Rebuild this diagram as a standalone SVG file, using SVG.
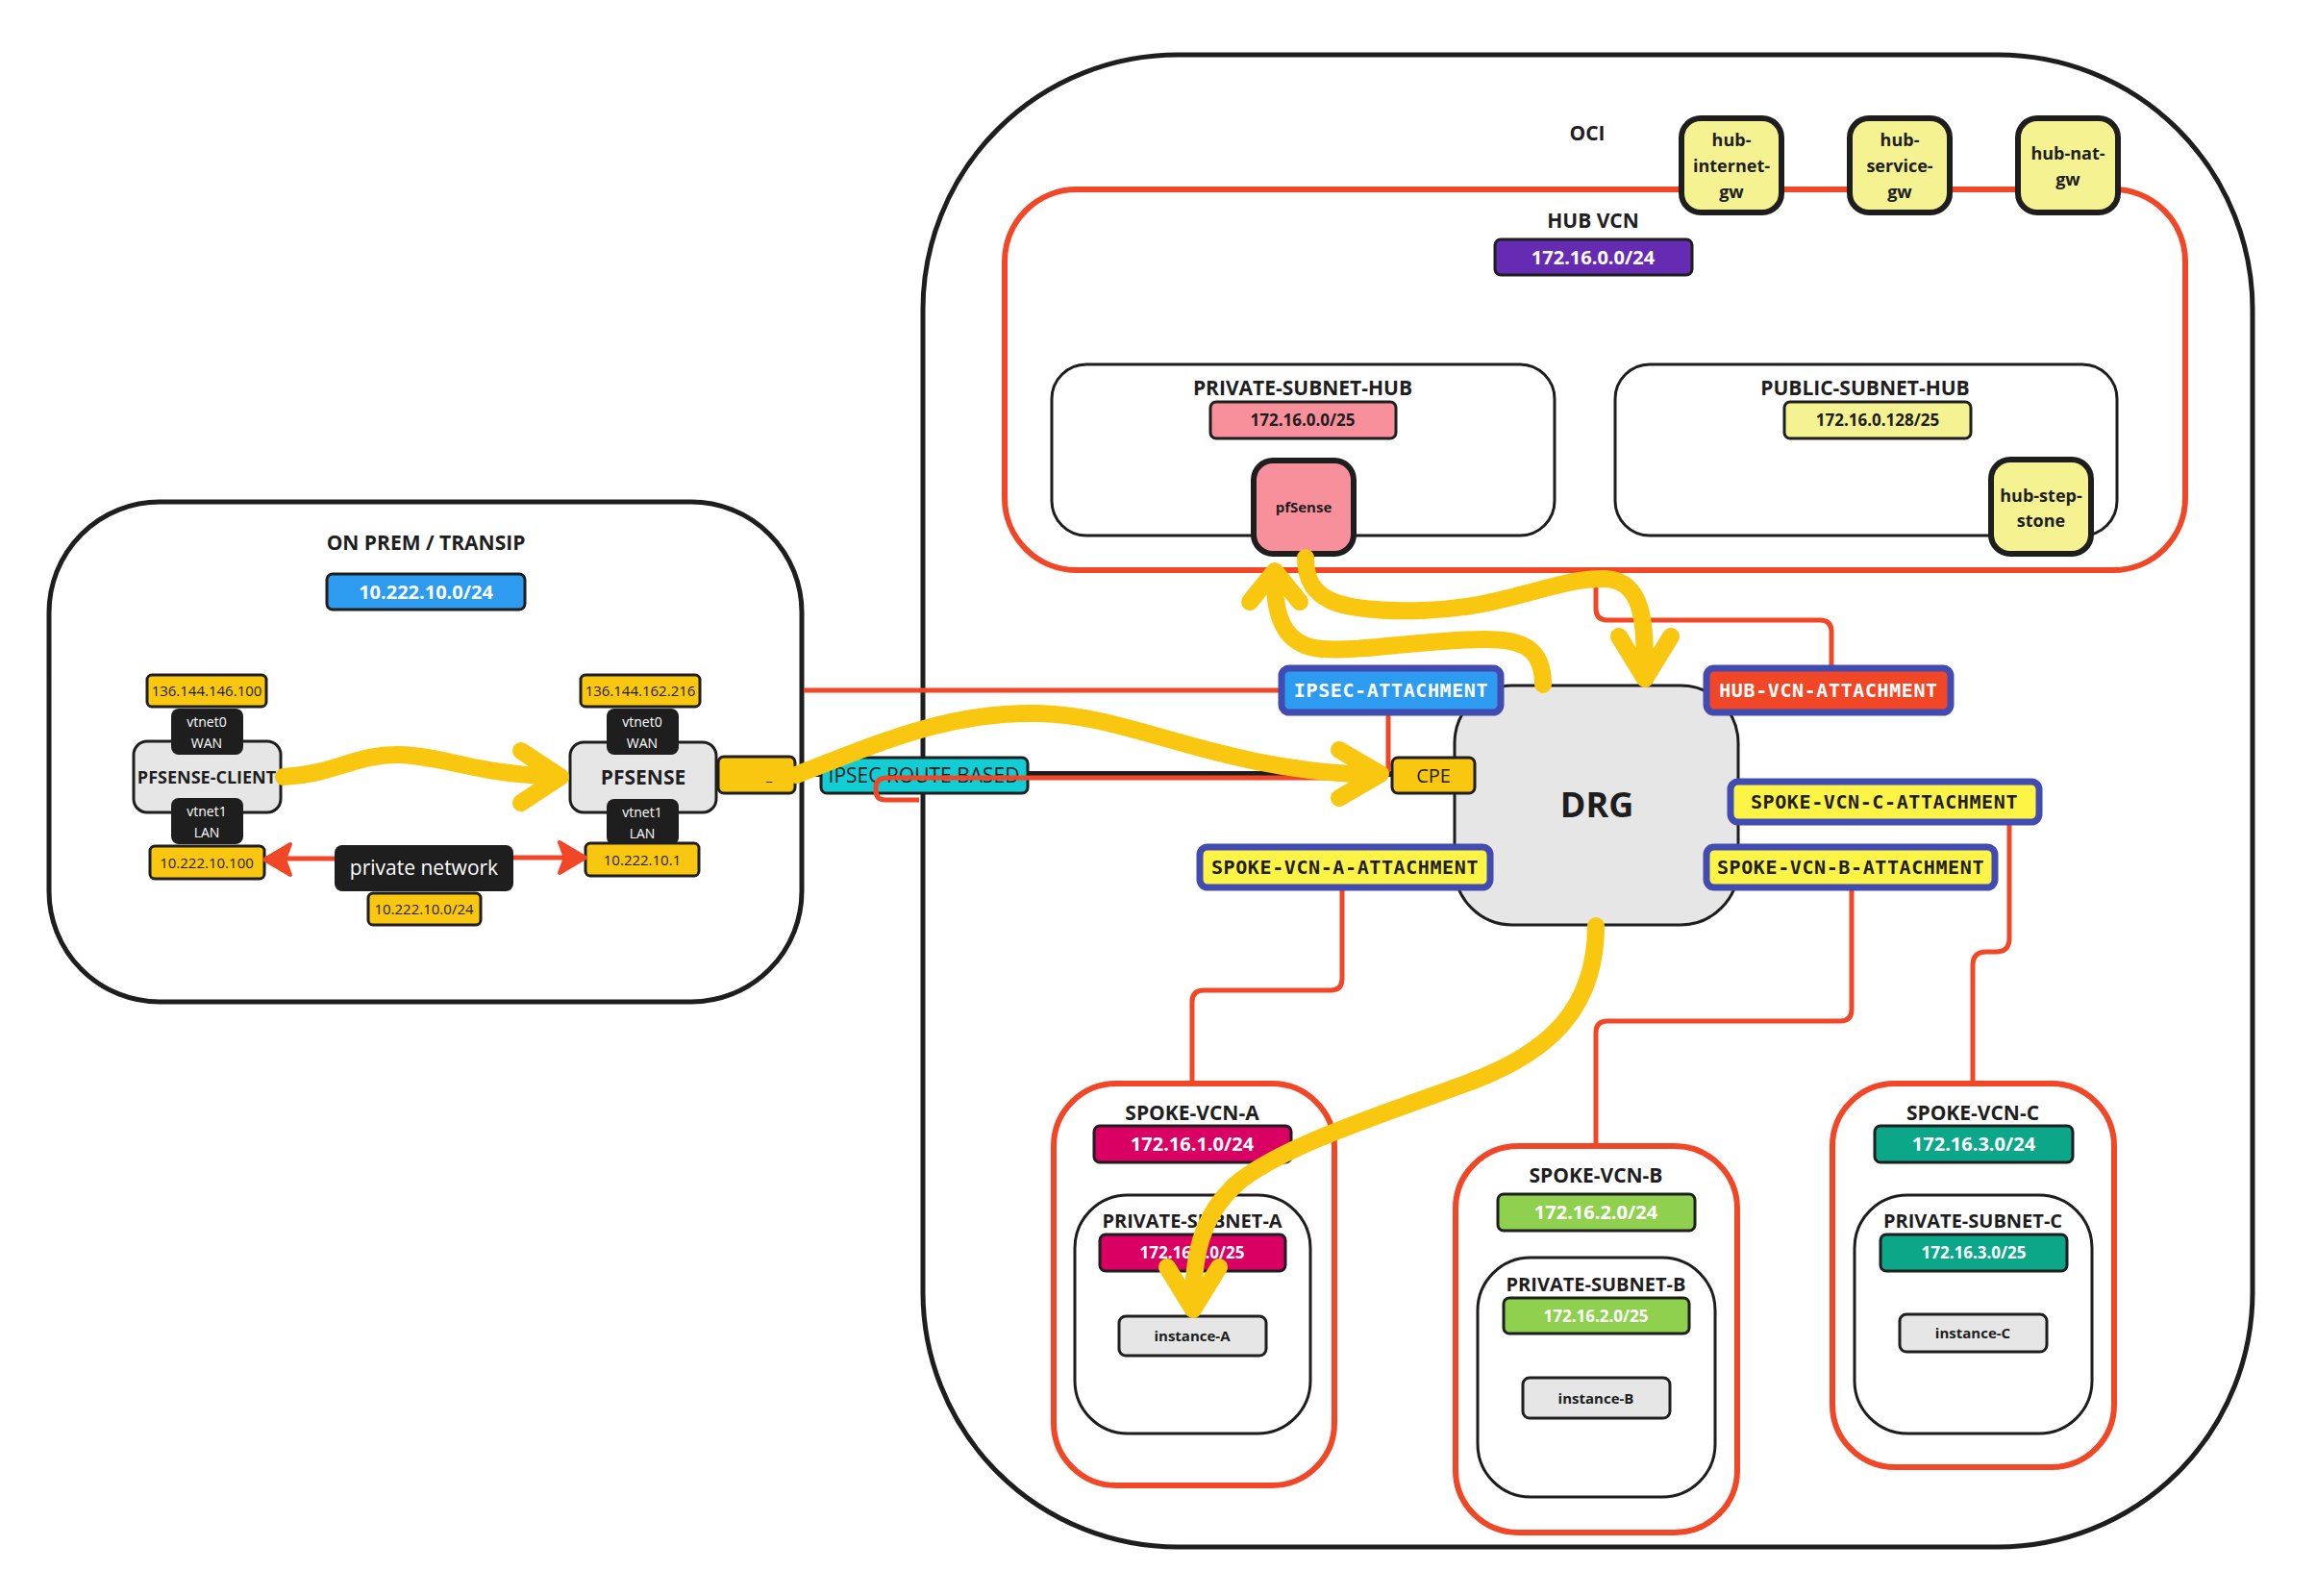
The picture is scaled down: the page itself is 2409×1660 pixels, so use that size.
<svg xmlns="http://www.w3.org/2000/svg" width="2409" height="1660" viewBox="0 0 2409 1660">
<style>
.t{font-family:"Open Sans","Noto Sans","Liberation Sans",sans-serif;fill:#1e1e1e;text-anchor:middle}
.b{font-weight:700}
.w{fill:#ffffff}
.m{font-family:"DejaVu Sans Mono","Liberation Mono",monospace;font-weight:700;font-size:20px;letter-spacing:0.6px;text-anchor:middle}
.frame{fill:none;stroke:#1e1e1e;stroke-width:5}
.vcn{fill:none;stroke:#f24726;stroke-width:6}
.sub{fill:#ffffff;stroke:#1e1e1e;stroke-width:3}
.amber{fill:#fac710;stroke:#1e1e1e;stroke-width:3}
.grey{fill:#e6e6e6;stroke:#1e1e1e;stroke-width:3}
.nic{fill:#1e1e1e}
.att{stroke:#414bb2;stroke-width:7}
.lyel{fill:#f4f291;stroke:#1e1e1e;stroke-width:6}
.red{fill:none;stroke:#f24726;stroke-width:5;stroke-linejoin:round}
.flow{fill:none;stroke:#fac710;stroke-width:18;stroke-linecap:round;stroke-linejoin:round}
</style>
<rect width="2409" height="1660" fill="#ffffff"/>

<g id="onprem">
<rect class="frame" x="51" y="522" width="783" height="520" rx="115"/>
<text class="t b" x="443" y="572" font-size="21">ON PREM / TRANSIP</text>
<rect x="340" y="597" width="206" height="37" rx="6" fill="#2d9bf0" stroke="#1e1e1e" stroke-width="3"/>
<text class="t b w" x="443" y="623" font-size="20">10.222.10.0/24</text>
</g>

<g id="pfsense-client">
<rect class="amber" x="153" y="702" width="124" height="33" rx="5"/>
<text class="t" x="215" y="724" font-size="15">136.144.146.100</text>
<rect class="grey" x="139" y="771" width="153" height="74" rx="14"/>
<text class="t b" x="215" y="815" font-size="18">PFSENSE-CLIENT</text>
<rect class="nic" x="178" y="737" width="75" height="48" rx="8"/>
<text class="t w" x="215" y="756" font-size="14">vtnet0</text>
<text class="t w" x="215" y="778" font-size="14">WAN</text>
<rect class="nic" x="178" y="830" width="75" height="48" rx="8"/>
<text class="t w" x="215" y="849" font-size="14">vtnet1</text>
<text class="t w" x="215" y="871" font-size="14">LAN</text>
<rect class="amber" x="156" y="880" width="119" height="34" rx="5"/>
<text class="t" x="215" y="903" font-size="15">10.222.10.100</text>
</g>

<g id="pfsense">
<rect class="amber" x="604" y="702" width="124" height="33" rx="5"/>
<text class="t" x="666" y="724" font-size="15">136.144.162.216</text>
<rect class="grey" x="593" y="772" width="152" height="73" rx="14"/>
<text class="t b" x="669" y="816" font-size="21">PFSENSE</text>
<rect class="nic" x="631" y="737" width="75" height="48" rx="8"/>
<text class="t w" x="668" y="756" font-size="14">vtnet0</text>
<text class="t w" x="668" y="778" font-size="14">WAN</text>
<rect class="nic" x="631" y="831" width="75" height="48" rx="8"/>
<text class="t w" x="668" y="850" font-size="14">vtnet1</text>
<text class="t w" x="668" y="872" font-size="14">LAN</text>
<rect class="amber" x="609" y="877" width="118" height="34" rx="5"/>
<text class="t" x="668" y="900" font-size="15">10.222.10.1</text>
<rect class="amber" x="747" y="787" width="80" height="38" rx="6"/>
<text class="t" x="800" y="812" font-size="14">_</text>
</g>

<g id="private-network">
<rect class="nic" x="348" y="879" width="186" height="48" rx="8"/>
<text class="t w" x="441" y="910" font-size="21">private network</text>
<rect class="amber" x="383" y="929" width="117" height="33" rx="5"/>
<text class="t" x="441" y="951" font-size="15">10.222.10.0/24</text>
</g>

<g id="oci">
<rect class="frame" x="960" y="57" width="1383" height="1552" rx="265"/>
<text class="t b" x="1651" y="146" font-size="21">OCI</text>
</g>

<g id="hub-vcn">
<rect class="vcn" x="1045" y="197" width="1228" height="396" rx="75"/>
<text class="t b" x="1657" y="237" font-size="21">HUB VCN</text>
<rect x="1555" y="249" width="205" height="37" rx="6" fill="#652cb3" stroke="#1e1e1e" stroke-width="3"/>
<text class="t b w" x="1657" y="275" font-size="20">172.16.0.0/24</text>
</g>

<g id="private-subnet-hub">
<rect class="sub" x="1094" y="379" width="523" height="178" rx="36"/>
<text class="t b" x="1355" y="411" font-size="21">PRIVATE-SUBNET-HUB</text>
<rect x="1259" y="418" width="193" height="38" rx="6" fill="#f8909c" stroke="#1e1e1e" stroke-width="3"/>
<text class="t b" x="1355" y="443" font-size="17">172.16.0.0/25</text>
</g>

<g id="pfsense-oci">
<rect x="1304" y="479" width="104" height="97" rx="20" fill="#f8909c" stroke="#1e1e1e" stroke-width="6"/>
<text class="t b" x="1356" y="533" font-size="15">pfSense</text>
</g>

<g id="public-subnet-hub">
<rect class="sub" x="1680" y="379" width="522" height="178" rx="36"/>
<text class="t b" x="1940" y="411" font-size="21">PUBLIC-SUBNET-HUB</text>
<rect x="1856" y="418" width="194" height="38" rx="6" fill="#f4f291" stroke="#1e1e1e" stroke-width="3"/>
<text class="t b" x="1953" y="443" font-size="17">172.16.0.128/25</text>
</g>

<g id="hub-step-stone">
<rect class="lyel" x="2071" y="478" width="104" height="98" rx="20"/>
<text class="t b" x="2123" y="522" font-size="18">hub-step-</text>
<text class="t b" x="2123" y="548" font-size="18">stone</text>
</g>

<g id="hub-internet-gw">
<rect class="lyel" x="1749" y="123" width="104" height="98" rx="20"/>
<text class="t b" x="1801" y="152" font-size="18">hub-</text>
<text class="t b" x="1801" y="179" font-size="18">internet-</text>
<text class="t b" x="1801" y="206" font-size="18">gw</text>
</g>
<g id="hub-service-gw">
<rect class="lyel" x="1924" y="123" width="104" height="98" rx="20"/>
<text class="t b" x="1976" y="152" font-size="18">hub-</text>
<text class="t b" x="1976" y="179" font-size="18">service-</text>
<text class="t b" x="1976" y="206" font-size="18">gw</text>
</g>
<g id="hub-nat-gw">
<rect class="lyel" x="2099" y="123" width="104" height="98" rx="20"/>
<text class="t b" x="2151" y="166" font-size="18">hub-nat-</text>
<text class="t b" x="2151" y="193" font-size="18">gw</text>
</g>

<g id="drg">
<rect class="grey" x="1513" y="713" width="295" height="249" rx="60"/>
<text class="t b" x="1661" y="850" font-size="36">DRG</text>
</g>

<g id="spoke-vcn-a">
<rect class="vcn" x="1096" y="1127" width="292" height="418" rx="65"/>
<text class="t b" x="1240" y="1165" font-size="21">SPOKE-VCN-A</text>
<rect x="1138" y="1171" width="205" height="38" rx="6" fill="#da0063" stroke="#1e1e1e" stroke-width="3"/>
<text class="t b w" x="1240" y="1197" font-size="20">172.16.1.0/24</text>
<rect class="sub" x="1118" y="1243" width="245" height="248" rx="55"/>
<text class="t b" x="1240" y="1277" font-size="20">PRIVATE-SUBNET-A</text>
<rect x="1144" y="1284" width="193" height="38" rx="6" fill="#da0063" stroke="#1e1e1e" stroke-width="3"/>
<text class="t b w" x="1240" y="1309" font-size="17">172.16.1.0/25</text>
<rect class="grey" x="1164" y="1369" width="153" height="41" rx="7"/>
<text class="t b" x="1240" y="1395" font-size="15">instance-A</text>
</g>

<g id="spoke-vcn-b">
<rect class="vcn" x="1514" y="1192" width="293" height="402" rx="65"/>
<text class="t b" x="1660" y="1230" font-size="21">SPOKE-VCN-B</text>
<rect x="1558" y="1242" width="205" height="38" rx="6" fill="#8fd14f" stroke="#1e1e1e" stroke-width="3"/>
<text class="t b w" x="1660" y="1268" font-size="20">172.16.2.0/24</text>
<rect class="sub" x="1537" y="1308" width="247" height="249" rx="55"/>
<text class="t b" x="1660" y="1343" font-size="20">PRIVATE-SUBNET-B</text>
<rect x="1564" y="1350" width="193" height="37" rx="6" fill="#8fd14f" stroke="#1e1e1e" stroke-width="3"/>
<text class="t b w" x="1660" y="1375" font-size="17">172.16.2.0/25</text>
<rect class="grey" x="1584" y="1433" width="153" height="42" rx="7"/>
<text class="t b" x="1660" y="1460" font-size="15">instance-B</text>
</g>

<g id="spoke-vcn-c">
<rect class="vcn" x="1906" y="1127" width="293" height="399" rx="65"/>
<text class="t b" x="2052" y="1165" font-size="21">SPOKE-VCN-C</text>
<rect x="1950" y="1171" width="206" height="38" rx="6" fill="#0ca789" stroke="#1e1e1e" stroke-width="3"/>
<text class="t b w" x="2053" y="1197" font-size="20">172.16.3.0/24</text>
<rect class="sub" x="1929" y="1243" width="247" height="248" rx="55"/>
<text class="t b" x="2052" y="1277" font-size="20">PRIVATE-SUBNET-C</text>
<rect x="1956" y="1284" width="194" height="38" rx="6" fill="#0ca789" stroke="#1e1e1e" stroke-width="3"/>
<text class="t b w" x="2053" y="1309" font-size="17">172.16.3.0/25</text>
<rect class="grey" x="1976" y="1367" width="153" height="39" rx="7"/>
<text class="t b" x="2052" y="1392" font-size="15">instance-C</text>
</g>

<g id="connectors">
<path d="M827,805 H1448" fill="none" stroke="#1e1e1e" stroke-width="6"/>
<rect x="854" y="788" width="215" height="37" rx="6" fill="#12cdd4" stroke="#1e1e1e" stroke-width="3"/>
<text class="t" x="961" y="814" font-size="21">IPSEC ROUTE BASED</text>
<path class="red" d="M836,718 H1333"/>
<path class="red" d="M1444,743 V797 Q1444,809 1432,809 H923 Q911,809 911,819 V822 Q911,832 921,832 H956"/>
<path class="red" d="M1905,695 V657 Q1905,645 1893,645 H1672 Q1660,645 1660,633 V596"/>
<path class="red" d="M1396,923 V1018 Q1396,1030 1384,1030 H1252 Q1240,1030 1240,1042 V1127"/>
<path class="red" d="M1926,923 V1050 Q1926,1062 1914,1062 H1672 Q1660,1062 1660,1074 V1192"/>
<path class="red" d="M2090,855 V976 Q2090,990 2076,990 H2066 Q2052,990 2052,1004 V1127"/>
<path class="red" d="M348,893 H290"/>
<path d="M275,894 L302,878 L296,894 L302,910 Z" fill="#f24726" stroke="#f24726" stroke-width="4" stroke-linejoin="round"/>
<path class="red" d="M534,892 H594"/>
<path d="M609,892 L582,876 L588,892 L582,908 Z" fill="#f24726" stroke="#f24726" stroke-width="4" stroke-linejoin="round"/>
</g>

<g id="attachments">
<g id="ipsec-attachment">
<rect class="att" x="1333" y="695" width="228" height="46" rx="8" fill="#2d9bf0"/>
<text class="m w" x="1447" y="725">IPSEC-ATTACHMENT</text>
</g>
<g id="hub-vcn-attachment">
<rect class="att" x="1775" y="695" width="254" height="46" rx="8" fill="#f24726"/>
<text class="m w" x="1902" y="725">HUB-VCN-ATTACHMENT</text>
</g>
<g id="spoke-vcn-c-attachment">
<rect class="att" x="1800" y="813" width="321" height="42" rx="8" fill="#fef445"/>
<text class="m" x="1960" y="841" fill="#1e1e1e">SPOKE-VCN-C-ATTACHMENT</text>
</g>
<g id="spoke-vcn-b-attachment">
<rect class="att" x="1775" y="881" width="300" height="42" rx="8" fill="#fef445"/>
<text class="m" x="1925" y="909" fill="#1e1e1e">SPOKE-VCN-B-ATTACHMENT</text>
</g>
<g id="spoke-vcn-a-attachment">
<rect class="att" x="1248" y="881" width="302" height="42" rx="8" fill="#fef445"/>
<text class="m" x="1399" y="909" fill="#1e1e1e">SPOKE-VCN-A-ATTACHMENT</text>
</g>
<g id="cpe">
<rect class="amber" x="1448" y="788" width="86" height="37" rx="6"/>
<text class="t" x="1491" y="814" font-size="20">CPE</text>
</g>
</g>

<g id="flows">
<path class="flow" d="M295,808 C350,805 370,784 415,785 C460,786 500,806 572,807"/>
<path class="flow" d="M542,781 L583,808 L542,835"/>
<path class="flow" d="M828,806 C920,770 990,740 1080,742 C1180,744 1260,800 1425,806"/>
<path class="flow" d="M1393,780 L1436,805 L1393,830"/>
<path class="flow" d="M1605,712 C1605,675 1585,665 1545,665 C1480,665 1420,678 1375,675 C1335,672 1326,640 1326,605"/>
<path class="flow" d="M1300,626 L1326,594 L1352,626"/>
<path class="flow" d="M1358,580 C1358,625 1390,637 1480,635 C1570,632 1620,600 1670,602 C1710,604 1711,650 1711,695"/>
<path class="flow" d="M1684,662 L1711,706 L1738,662"/>
<path class="flow" d="M1660,963 C1660,1050 1610,1095 1530,1125 C1430,1162 1340,1190 1290,1228 C1252,1260 1242,1300 1241,1350"/>
<path class="flow" d="M1214,1318 L1241,1362 L1268,1318"/>
</g>
</svg>
